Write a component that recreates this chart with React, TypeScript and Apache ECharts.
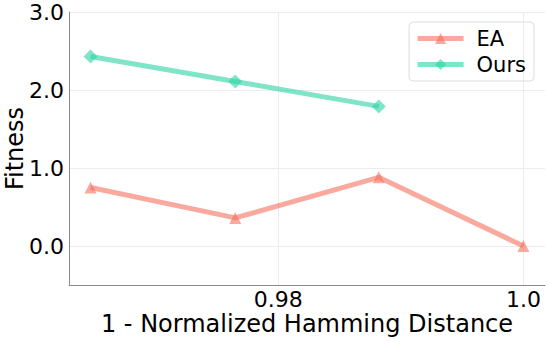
import React, { useEffect, useRef } from "react";
import * as echarts from "echarts";

const xValues = [0.9647, 0.9765, 0.9882, 1.0];
const eaValues = [0.75, 0.36, 0.88, 0.0];
const oursValues = [2.43, 2.11, 1.79];
const xTicks = [0.98, 1.0];
const yTicks = [0, 1, 2, 3];

const FONT = "DejaVu Sans";

export default function App() {
  const ref = useRef<HTMLDivElement>(null);
  useEffect(() => {
    if (!ref.current) return;
    const chart = echarts.init(ref.current, null, { renderer: "svg" });
    chart.setOption({
      animation: false,
      backgroundColor: "#ffffff",
      grid: { left: 69, right: 3, top: 12, bottom: 56, containLabel: false, outerBoundsMode: "none" },
      legend: {
        orient: "vertical",
        right: 14,
        top: 22,
        padding: [6, 8, 6, 6],
        itemWidth: 46,
        itemHeight: 14,
        itemGap: 5,
        borderColor: "#dddddd",
        borderWidth: 1,
        borderRadius: 4,
        lineStyle: { width: 5 },
        textStyle: { fontFamily: FONT, fontSize: 21, color: "#000", padding: [0, 0, 0, 8] },
        data: ["EA", "Ours"],
      },
      xAxis: {
        type: "value",
        min: 0.96294,
        max: 1.00176,
        name: "1 - Normalized Hamming Distance",
        nameLocation: "middle",
        nameGap: 27,
        nameMoveOverlap: false,
        nameTextStyle: { fontFamily: FONT, fontSize: 24, color: "#000", verticalAlign: "top" },
        axisLine: { show: true, onZero: false, lineStyle: { color: "#8a8a8a", width: 1 } },
        axisTick: { show: false, customValues: xTicks },
        axisLabel: {
          customValues: xTicks,
          fontFamily: FONT,
          fontSize: 22,
          color: "#000",
          margin: 3,
          formatter: (v: number) => (v === 1 ? "1.0" : String(v)),
        },
        splitLine: { show: true, lineStyle: { color: "#ececec", width: 1 } },
      },
      yAxis: {
        type: "value",
        min: -0.5,
        max: 3.0,
        name: "Fitness",
        nameLocation: "middle",
        nameGap: 42,
        nameMoveOverlap: false,
        nameTextStyle: { fontFamily: FONT, fontSize: 24, color: "#000" },
        axisLine: { show: true, onZero: false, lineStyle: { color: "#8a8a8a", width: 1 } },
        axisTick: { show: false, customValues: yTicks },
        axisLabel: {
          customValues: yTicks,
          fontFamily: FONT,
          fontSize: 22,
          color: "#000",
          margin: 5,
          formatter: (v: number) => v.toFixed(1),
        },
        splitLine: { show: true, lineStyle: { color: "#ececec", width: 1 } },
      },
      series: [
        {
          name: "EA",
          type: "line",
          data: xValues.map((x, i) => [x, eaValues[i]]),
          symbol: "triangle",
          symbolSize: 12,
          color: "#f5705c",
          lineStyle: { width: 5, color: "#f5705c", opacity: 0.6 },
          itemStyle: { color: "#f5705c", opacity: 0.6 },
        },
        {
          name: "Ours",
          type: "line",
          data: oursValues.map((y, i) => [xValues[i], y]),
          symbol: "diamond",
          symbolSize: 14,
          color: "#2bd4a3",
          lineStyle: { width: 5, color: "#2bd4a3", opacity: 0.6 },
          itemStyle: { color: "#2bd4a3", opacity: 0.6 },
        },
      ],
    });
    return () => chart.dispose();
  }, []);
  return <div ref={ref} style={{ width: 548, height: 341, position: "absolute", left: 0, top: 0 }} />;
}
